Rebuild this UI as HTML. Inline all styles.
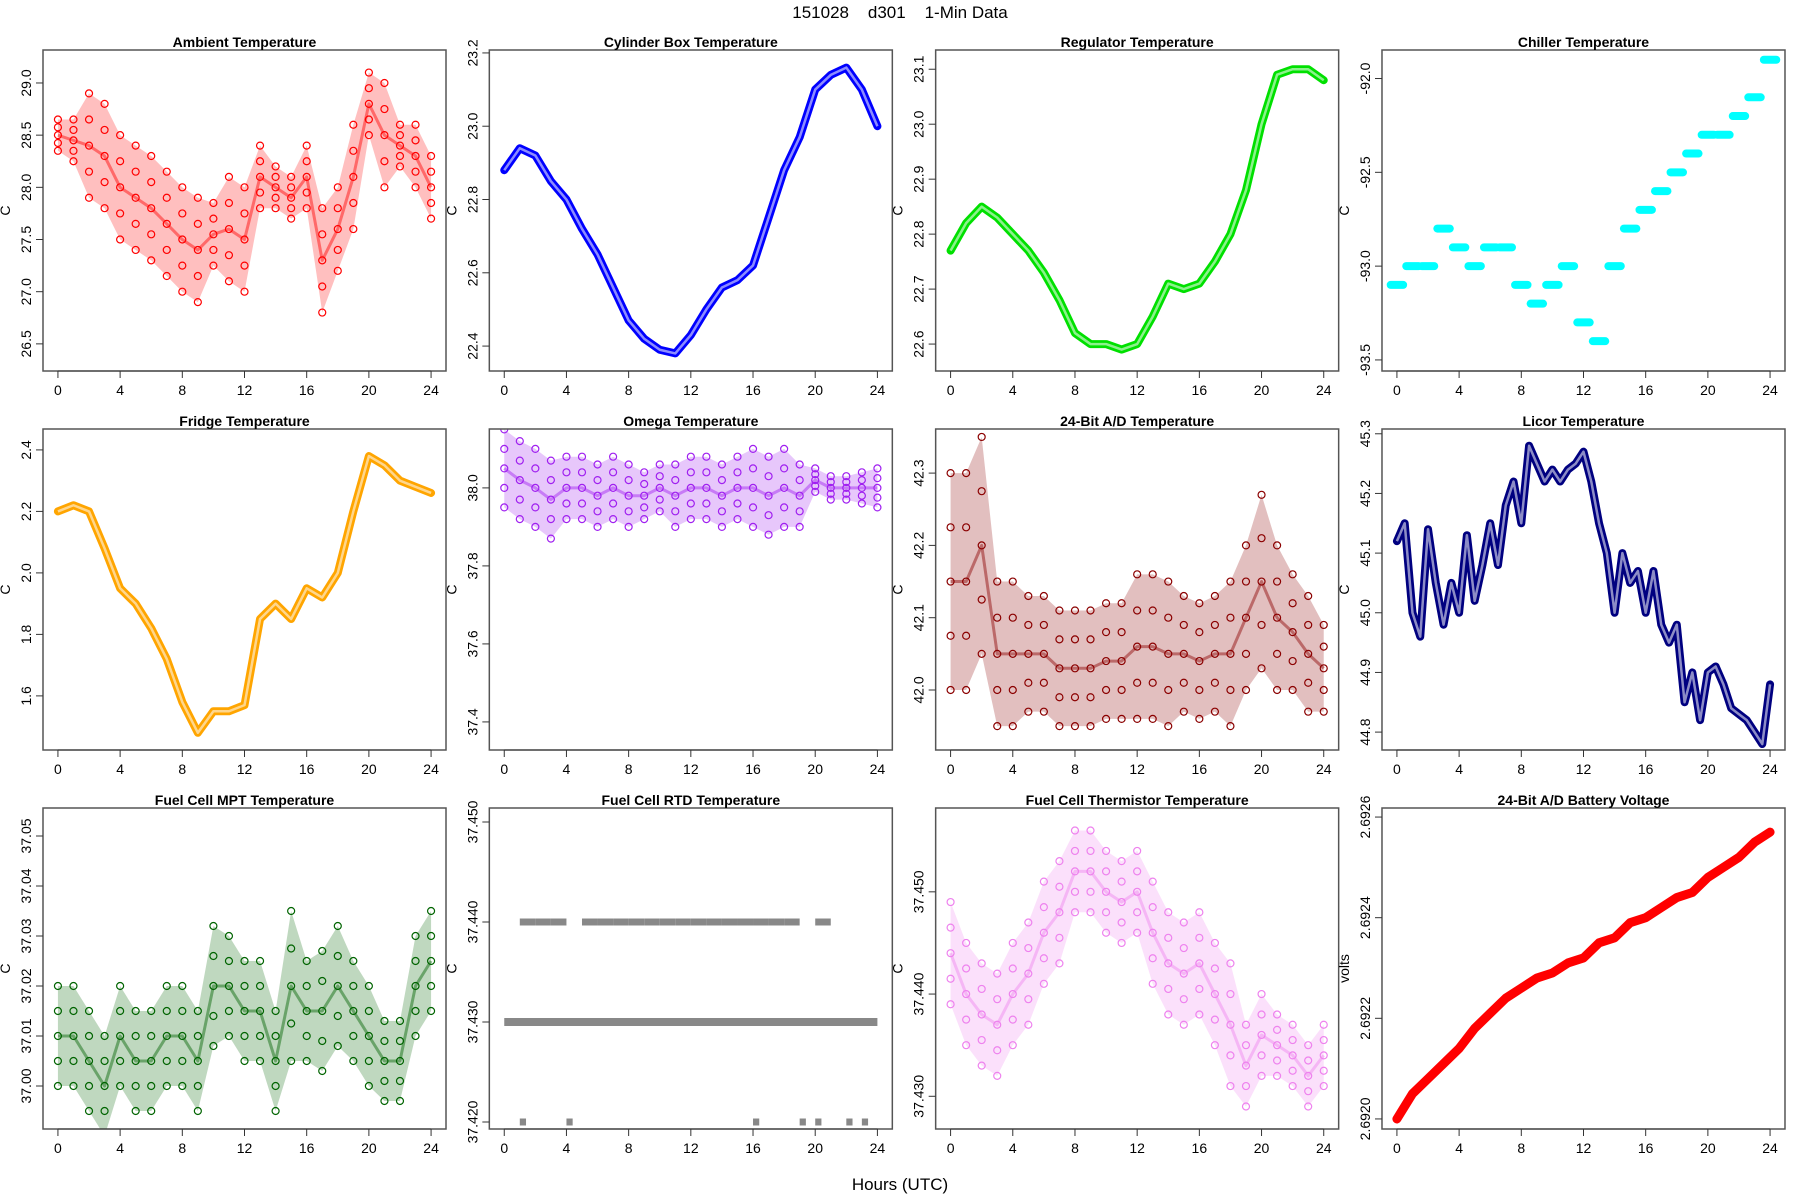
<!DOCTYPE html>
<html><head><meta charset="utf-8"><style>
body{margin:0;background:#fff}
svg{display:block;font-family:"Liberation Sans",sans-serif}
</style></head><body>
<svg id="c" width="1800" height="1200">
<text x="900" y="18" font-size="17" text-anchor="middle" style="white-space:pre">151028    d301    1-Min Data</text>
<text x="900" y="1190" font-size="17" text-anchor="middle">Hours (UTC)</text>
</svg>
<script>
const hours=[0,1,2,3,4,5,6,7,8,9,10,11,12,13,14,15,16,17,18,19,20,21,22,23,24];
const halfHours=[0,0.5,1,1.5,2,2.5,3,3.5,4,4.5,5,5.5,6,6.5,7,7.5,8,8.5,9,9.5,10,10.5,11,11.5,12,12.5,13,13.5,14,14.5,15,15.5,16,16.5,17,17.5,18,18.5,19,19.5,20,20.5,21,21.5,22,22.5,23,23.5,24];
const xTicks=[0,4,8,12,16,20,24];
const ambientVals=[28.5,28.45,28.4,28.3,28.0,27.9,27.8,27.65,27.5,27.4,27.55,27.6,27.5,28.1,28.0,27.9,28.1,27.3,27.6,28.1,28.8,28.5,28.4,28.3,28.0];
const ambientSpread=[0.15,0.2,0.5,0.5,0.5,0.5,0.5,0.5,0.5,0.5,0.3,0.5,0.5,0.3,0.2,0.2,0.3,0.5,0.4,0.5,0.3,0.5,0.2,0.3,0.3];
const cylVals=[22.88,22.94,22.92,22.85,22.8,22.72,22.65,22.56,22.47,22.42,22.39,22.38,22.43,22.5,22.56,22.58,22.62,22.75,22.88,22.97,23.1,23.14,23.16,23.1,23.0];
const regVals=[22.77,22.82,22.85,22.83,22.8,22.77,22.73,22.68,22.62,22.6,22.6,22.59,22.6,22.65,22.71,22.7,22.71,22.75,22.8,22.88,23.0,23.09,23.1,23.1,23.08];
const chillerVals=[-93.1,-93.0,-93.0,-92.8,-92.9,-93.0,-92.9,-92.9,-93.1,-93.2,-93.1,-93.0,-93.3,-93.4,-93.0,-92.8,-92.7,-92.6,-92.5,-92.4,-92.3,-92.3,-92.2,-92.1,-91.9];
const fridgeVals=[2.2,2.22,2.2,2.08,1.95,1.9,1.82,1.72,1.58,1.48,1.55,1.55,1.57,1.85,1.9,1.85,1.95,1.92,2.0,2.2,2.38,2.35,2.3,2.28,2.26];
const omegaVals=[38.05,38.02,38.0,37.97,38.0,38.0,37.98,38.0,37.98,37.98,38.0,37.98,38.0,38.0,37.98,38.0,38.0,37.98,38.0,37.98,38.02,38.0,38.0,38.0,38.0];
const omegaSpread=[0.1,0.1,0.1,0.1,0.08,0.08,0.08,0.08,0.08,0.06,0.06,0.08,0.08,0.08,0.08,0.08,0.1,0.1,0.1,0.08,0.03,0.03,0.03,0.04,0.05];
const adVals=[42.15,42.15,42.2,42.05,42.05,42.05,42.05,42.03,42.03,42.03,42.04,42.04,42.06,42.06,42.05,42.05,42.04,42.05,42.05,42.1,42.15,42.1,42.08,42.05,42.03];
const adSpread=[0.15,0.15,0.15,0.1,0.1,0.08,0.08,0.08,0.08,0.08,0.08,0.08,0.1,0.1,0.1,0.08,0.08,0.08,0.1,0.1,0.12,0.1,0.08,0.08,0.06];
const licorVals=[45.12,45.15,45.0,44.96,45.14,45.05,44.98,45.05,45.0,45.13,45.02,45.08,45.15,45.08,45.18,45.22,45.15,45.28,45.25,45.22,45.24,45.22,45.24,45.25,45.27,45.22,45.15,45.1,45.0,45.1,45.05,45.07,45.0,45.07,44.98,44.95,44.98,44.85,44.9,44.82,44.9,44.91,44.88,44.84,44.83,44.82,44.8,44.78,44.88];
const mptVals=[37.01,37.01,37.005,37.0,37.01,37.005,37.005,37.01,37.01,37.005,37.02,37.02,37.015,37.015,37.005,37.02,37.015,37.015,37.02,37.015,37.01,37.005,37.005,37.02,37.025];
const mptSpread=[0.01,0.01,0.01,0.01,0.01,0.01,0.01,0.01,0.01,0.01,0.012,0.01,0.01,0.01,0.01,0.015,0.01,0.012,0.012,0.01,0.01,0.008,0.008,0.01,0.01];
const rtdVals=[37.43,37.43,37.43,37.43,37.43,37.43,37.43,37.43,37.43,37.43,37.43,37.43,37.43,37.43,37.43,37.43,37.43,37.43,37.43,37.43,37.43,37.43,37.43,37.43,37.43];
const rtdHigh=[0,1,1,1,0,1,1,1,1,1,1,1,1,1,1,1,1,1,1,0,1,0,0,0,0];
const rtdLow=[0,1,0,0,1,0,0,0,0,0,0,0,0,0,0,0,1,0,0,1,1,0,1,1,1];
const thermVals=[37.444,37.44,37.438,37.437,37.44,37.442,37.446,37.448,37.452,37.452,37.45,37.449,37.45,37.446,37.443,37.442,37.443,37.44,37.437,37.433,37.436,37.435,37.434,37.432,37.434];
const thermSpread=[0.005,0.005,0.005,0.005,0.005,0.005,0.005,0.005,0.004,0.004,0.004,0.004,0.004,0.005,0.005,0.005,0.005,0.005,0.006,0.004,0.004,0.003,0.003,0.003,0.003];
const battVals=[2.692,2.69205,2.69208,2.69211,2.69214,2.69218,2.69221,2.69224,2.69226,2.69228,2.69229,2.69231,2.69232,2.69235,2.69236,2.69239,2.6924,2.69242,2.69244,2.69245,2.69248,2.6925,2.69252,2.69255,2.69257];

const panels=[
 {name:'ambient',title:'Ambient Temperature',col:'#ff0000',ylab:'C',ylim:[26.24,29.316],ticks:['26.5','27.0','27.5','28.0','28.5','29.0'],xs:hours,v:ambientVals,s:ambientSpread},
 {name:'cylinder-box',title:'Cylinder Box Temperature',col:'#0000ff',ylab:'C',ylim:[22.332,23.208],ticks:['22.4','22.6','22.8','23.0','23.2'],xs:hours,v:cylVals},
 {name:'regulator',title:'Regulator Temperature',col:'#00e000',ylab:'C',ylim:[22.551,23.135],ticks:['22.6','22.7','22.8','22.9','23.0','23.1'],xs:hours,v:regVals},
 {name:'chiller',title:'Chiller Temperature',col:'#00ffff',ylab:'C',ylim:[-93.559,-91.848],ticks:['-93.5','-93.0','-92.5','-92.0'],xs:hours,v:chillerVals,step:true},
 {name:'fridge',title:'Fridge Temperature',col:'#ffa500',ylab:'C',ylim:[1.424,2.468],ticks:['1.6','1.8','2.0','2.2','2.4'],xs:hours,v:fridgeVals},
 {name:'omega',title:'Omega Temperature',col:'#a020f0',ylab:'C',ylim:[37.328,38.151],ticks:['37.4','37.6','37.8','38.0'],xs:hours,v:omegaVals,s:omegaSpread},
 {name:'ad-24bit',title:'24-Bit A/D Temperature',col:'#8b0000',ylab:'C',ylim:[41.917,42.361],ticks:['42.0','42.1','42.2','42.3'],xs:hours,v:adVals,s:adSpread},
 {name:'licor',title:'Licor Temperature',col:'#000080',ylab:'C',ylim:[44.77,45.308],ticks:['44.8','44.9','45.0','45.1','45.2','45.3'],xs:halfHours,v:licorVals},
 {name:'fuel-cell-mpt',title:'Fuel Cell MPT Temperature',col:'#006400',ylab:'C',ylim:[36.9914,37.0556],ticks:['37.00','37.01','37.02','37.03','37.04','37.05'],xs:hours,v:mptVals,s:mptSpread},
 {name:'fuel-cell-rtd',title:'Fuel Cell RTD Temperature',col:'#888888',ylab:'C',ylim:[37.4193,37.4514],ticks:['37.420','37.430','37.440','37.450'],xs:hours,v:rtdVals,rtd:true},
 {name:'fuel-cell-thermistor',title:'Fuel Cell Thermistor Temperature',col:'#ee82ee',ylab:'C',ylim:[37.4268,37.4582],ticks:['37.430','37.440','37.450'],xs:hours,v:thermVals,s:thermSpread},
 {name:'battery-voltage',title:'24-Bit A/D Battery Voltage',col:'#ff0000',ylab:'volts',ylim:[2.69198,2.692618],ticks:['2.6920','2.6922','2.6924','2.6926'],xs:hours,v:battVals,thick:true}
];
const svg=document.getElementById('c');
const NS='http://www.w3.org/2000/svg';
function mk(tag,attrs,parent){const e=document.createElementNS(NS,tag);for(const k in attrs)e.setAttribute(k,attrs[k]);(parent||svg).appendChild(e);return e;}
const L0=43,PW=403,PH=321,colPitch=446.33,tops=[50,429,808];
panels.forEach((p,i)=>{
 const r=Math.floor(i/4),c=i%4;
 const L=L0+c*colPitch,T=tops[r],R=L+PW,B=T+PH;
 const g=mk('g',{});
 
 
 const xm=v=>L+(v+0.96)/25.92*PW;
 const ym=v=>B-(v-p.ylim[0])/(p.ylim[1]-p.ylim[0])*PH;
 const clip=mk('clipPath',{id:'cl'+i},g);mk('rect',{x:L,y:T,width:PW,height:PH},clip);
 const d=mk('g',{'clip-path':'url(#cl'+i+')'},g);
 
 
 const pts=p.xs.map((x,k)=>[xm(x),ym(p.v[k])]);
 if(p.s){
  const up=p.xs.map((x,k)=>xm(x)+','+ym(p.v[k]+p.s[k]));
  const dn=p.xs.map((x,k)=>xm(x)+','+ym(p.v[k]-p.s[k])).reverse();
  const band=mk('polygon',{points:up.concat(dn).join(' '),fill:p.col,'fill-opacity':0.25,stroke:'none'},d);
  
  
  p.xs.forEach((x,k)=>{[p.v[k]-p.s[k],p.v[k]-p.s[k]/2,p.v[k],p.v[k]+p.s[k]/2,p.v[k]+p.s[k]].forEach(v=>{
   const ci=mk('circle',{cx:xm(x),cy:ym(v),r:3.5,fill:'none',stroke:p.col,'stroke-width':1.2},d);
   
   
  });});
  const ln=mk('polyline',{points:pts.map(q=>q.join(',')).join(' '),fill:'none',stroke:p.col,'stroke-width':3,'stroke-opacity':0.45,'stroke-linejoin':'round'},d);
  
  
 } else if(p.step){
  p.xs.forEach((x,k)=>{
   const s=mk('line',{x1:xm(x-0.4),x2:xm(x+0.4),y1:ym(p.v[k]),y2:ym(p.v[k]),stroke:p.col,'stroke-width':8,'stroke-linecap':'round'},d);
   
   
  });
 } else if(p.rtd){
  const ln=mk('polyline',{points:pts.map(q=>q.join(',')).join(' '),fill:'none',stroke:p.col,'stroke-width':8},d);
  
  
  p.xs.forEach((x,k)=>{
   if(k<p.xs.length-1&&rtdHigh[k]){const s=mk('line',{x1:xm(x),x2:xm(x+1),y1:ym(p.v[k]+0.01),y2:ym(p.v[k]+0.01),stroke:p.col,'stroke-width':7},d);
    
    }
   if(k<p.xs.length-1&&rtdLow[k]){const s=mk('line',{x1:xm(x),x2:xm(x+0.4),y1:ym(p.v[k]-0.01),y2:ym(p.v[k]-0.01),stroke:p.col,'stroke-width':7},d);
    
    }
  });
 } else {
  const pl=pts.map(q=>q.join(',')).join(' ');
  const ln=mk('polyline',{points:pl,fill:'none',stroke:p.col,'stroke-width':p.thick?9:8,'stroke-linejoin':'round','stroke-linecap':'round'},d);
  
  
  if(!p.thick){const w=mk('polyline',{points:pl,fill:'none',stroke:'#fff','stroke-width':2.5,'stroke-opacity':0.55,'stroke-linejoin':'round'},d);
   
   }
 }
 const box=mk('rect',{x:L,y:T,width:PW,height:PH,fill:'none',stroke:'#555','stroke-width':1.5},g);
 
 
 const t=mk('text',{x:L+PW/2,y:T-3,'font-size':14,'font-weight':'bold','text-anchor':'middle'},g);t.textContent=p.title;
 
 
 xTicks.forEach(v=>{const x=xm(v);mk('line',{x1:x,x2:x,y1:B,y2:B+7,stroke:'#333'},g);
  const tx=mk('text',{x:x,y:B+24,'font-size':14,'text-anchor':'middle'},g);tx.textContent=v;
  
  });
 mk('line',{x1:xm(0),x2:xm(24),y1:B,y2:B,stroke:'#333'},g);
 p.ticks.forEach(tl=>{const y=ym(parseFloat(tl));mk('line',{x1:L-7,x2:L,y1:y,y2:y,stroke:'#333'},g);
  const tx=mk('text',{x:0,y:0,'font-size':14,'text-anchor':'middle',transform:'translate('+(L-12)+','+y+') rotate(-90)'},g);tx.textContent=tl;
  
  });
 const yl=mk('text',{x:0,y:0,'font-size':14,'text-anchor':'middle',transform:'translate('+(L-33)+','+(T+PH/2)+') rotate(-90)'},g);yl.textContent=p.ylab;
 
 
});
</script>
</body></html>
